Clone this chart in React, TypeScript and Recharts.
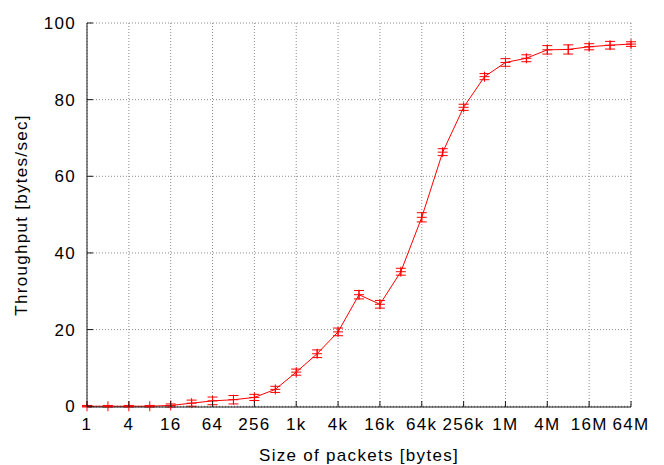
import React from "react";
import { CartesianGrid, ErrorBar, Line, LineChart, XAxis, YAxis } from "recharts";

// Packet size as a power of two (2^0 = 1 byte ... 2^26 = 64M).
const sizeExp = [0, 1, 2, 3, 4, 5, 6, 7, 8, 9, 10, 11, 12, 13, 14, 15, 16, 17, 18, 19, 20, 21, 22, 23, 24, 25, 26];
const throughput = [
  0.0, 0.0, 0.0, 0.0, 0.2, 0.8, 1.4, 1.7, 2.3, 4.4, 8.9, 13.7, 19.4, 29.1,
  26.6, 35.1, 49.3, 66.3, 78.0, 86.0, 89.7, 90.8, 93.0, 93.1, 93.8, 94.2, 94.5,
];
const throughputErr = [
  0.2, 0.2, 0.2, 0.2, 0.4, 0.8, 1.0, 1.1, 0.8, 0.8, 0.8, 1.0, 1.0, 1.1,
  1.0, 0.9, 1.2, 0.9, 0.8, 0.8, 1.0, 0.9, 1.1, 1.2, 0.8, 1.0, 0.6,
];

const xTickExp = [0, 2, 4, 6, 8, 10, 12, 14, 16, 18, 20, 22, 24, 26];
const xTickLabels = ["1", "4", "16", "64", "256", "1k", "4k", "16k", "64k", "256k", "1M", "4M", "16M", "64M"];
const yTicks = [0, 20, 40, 60, 80, 100];

const data = sizeExp.map((e, i) => ({ exp: e, value: throughput[i], err: throughputErr[i] }));

const RED = "#ff0000";
const BORDER = "#1a1a1a";
const FONT = "'Liberation Sans', Arial, Helvetica, sans-serif";
const textStyle = { fontFamily: FONT, fontSize: 17, letterSpacing: 1.3, fill: "#000" };
const TICK_GAP = 11;
const TICK_LEN = 6;

function labelFor(exp: number): string {
  const i = xTickExp.indexOf(exp);
  return i >= 0 ? xTickLabels[i] : "";
}

// gnuplot-style ticks point into the plot, so draw them by hand.
function BottomTick({ x, y, payload }: any) {
  const axisY = y - TICK_GAP;
  return (
    <g>
      <line x1={x} x2={x} y1={axisY} y2={axisY - TICK_LEN} stroke={BORDER} />
      <text x={x} y={y} dy="0.71em" textAnchor="middle" style={textStyle}>
        {labelFor(payload.value)}
      </text>
    </g>
  );
}

function TopTick({ x, y }: any) {
  return <line x1={x} x2={x} y1={y} y2={y + TICK_LEN} stroke={BORDER} />;
}

function LeftTick({ x, y, payload }: any) {
  const axisX = x + TICK_GAP;
  return (
    <g>
      <line x1={axisX} x2={axisX + TICK_LEN} y1={y} y2={y} stroke={BORDER} />
      <text x={x} y={y} dy="0.355em" textAnchor="end" style={textStyle}>
        {payload.value}
      </text>
    </g>
  );
}

function RightTick({ x, y }: any) {
  return <line x1={x} x2={x - TICK_LEN} y1={y} y2={y} stroke={BORDER} />;
}

function PlusDot({ cx, cy, index }: any) {
  if (cx == null || cy == null) return null;
  return <path key={index} d={`M${cx - 5},${cy}h10M${cx},${cy - 5}v10`} stroke={RED} strokeWidth={1} fill="none" />;
}

export default function App() {
  return (
    <div style={{ position: "absolute", left: 0, top: 0, background: "#fff" }}>
      <LineChart width={664} height={465} data={data} margin={{ top: 23, right: 33, bottom: 0, left: 10 }}>
        <CartesianGrid stroke="#8c8c8c" strokeDasharray="1 2" />
        <XAxis
          dataKey="exp"
          type="number"
          domain={[0, 26]}
          ticks={xTickExp}
          interval={0}
          height={58}
          tickSize={0}
          tickMargin={TICK_GAP}
          tick={<BottomTick />}
          axisLine={{ stroke: BORDER }}
          label={{ value: "Size of packets [bytes]", position: "insideBottom", offset: 4, style: textStyle }}
        />
        <XAxis
          xAxisId="top"
          orientation="top"
          dataKey="exp"
          type="number"
          domain={[0, 26]}
          ticks={xTickExp}
          interval={0}
          height={0}
          tickSize={0}
          tickMargin={0}
          tick={<TopTick />}
          axisLine={{ stroke: BORDER }}
        />
        <YAxis
          type="number"
          domain={[0, 100]}
          ticks={yTicks}
          interval={0}
          width={77}
          tickSize={0}
          tickMargin={TICK_GAP}
          tick={<LeftTick />}
          axisLine={{ stroke: BORDER }}
          label={{
            value: "Throughput [bytes/sec]",
            angle: -90,
            position: "insideLeft",
            offset: 11,
            style: { ...textStyle, textAnchor: "middle" },
          }}
        />
        <YAxis
          yAxisId="right"
          orientation="right"
          type="number"
          domain={[0, 100]}
          ticks={yTicks}
          interval={0}
          width={0}
          tickSize={0}
          tickMargin={0}
          tick={<RightTick />}
          axisLine={{ stroke: BORDER }}
        />
        <Line
          dataKey="value"
          stroke={RED}
          strokeWidth={1}
          dot={PlusDot}
          activeDot={false}
          isAnimationActive={false}
        >
          <ErrorBar dataKey="err" width={5} stroke={RED} strokeWidth={1} direction="y" isAnimationActive={false} />
        </Line>
      </LineChart>
    </div>
  );
}
